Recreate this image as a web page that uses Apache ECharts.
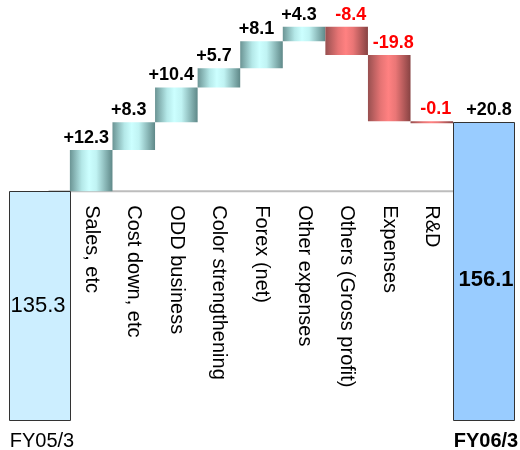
<!DOCTYPE html>
<html>
<head>
<meta charset="utf-8">
<script src="https://cdn.jsdelivr.net/npm/echarts@6/dist/echarts.min.js"></script>
<style>
  html, body { margin: 0; padding: 0; background: #ffffff; }
  #chart { width: 520px; height: 450px; }
</style>
</head>
<body>
<div id="chart"></div>
<script>
// Operating profit bridge, FY05/3 -> FY06/3
const startLabel = 'FY05/3';
const startValue = 135.3;
const endLabel = 'FY06/3';
const endValue = 156.1;
const totalChange = 20.8;

const categories = [
  'Sales, etc',
  'Cost down, etc',
  'ODD business',
  'Color strengthening',
  'Forex (net)',
  'Other expenses',
  'Others (Gross profit)',
  'Expenses',
  'R&D'
];
const changes = [12.3, 8.3, 10.4, 5.7, 8.1, 4.3, -8.4, -19.8, -0.1];

// ---- layout / style constants ----
const FONT = "'Liberation Sans', Arial, sans-serif";
const Y_MIN = 67;
const Y_MAX = 190;
const TOTAL_BAR_UNITS = 1.43;           // width of the two total bars, in step units
const X_MIN = 0.5 - TOTAL_BAR_UNITS;
const X_MAX = categories.length + 0.5 + TOTAL_BAR_UNITS;

function fmt(v) {
  return (v > 0 ? '+' : '') + v.toFixed(1);
}

function cylinder(stops) {
  return {
    type: 'linear', x: 0, y: 0, x2: 1, y2: 0,
    colorStops: stops.map(function (s) { return { offset: s[0], color: s[1] }; })
  };
}
const riseFill = cylinder([[0, '#6b9494'], [0.28, '#b4e8e8'], [0.45, '#ccffff'], [0.62, '#c0f3f3'], [1, '#5f8888']]);
const fallFill = cylinder([[0, '#985050'], [0.3, '#e67474'], [0.48, '#ff8181'], [0.65, '#ea7676'], [1, '#874343']]);

// running totals for each step
const stepData = [];
let level = startValue;
changes.forEach(function (d, i) {
  const next = level + d;
  stepData.push([i + 1, Math.min(level, next), Math.max(level, next), d]);
  level = next;
});

function renderStep(params, api) {
  const i = api.value(0);
  const lo = api.value(1);
  const hi = api.value(2);
  const delta = api.value(3);
  const pTop = api.coord([i - 0.5, hi]);
  const pBot = api.coord([i + 0.5, lo]);
  const x = pTop[0];
  const w = pBot[0] - pTop[0];
  const y = pTop[1];
  const h = Math.max(pBot[1] - pTop[1], 2);
  const cx = x + w / 2;
  const baseY = api.coord([i, startValue])[1];
  const rising = delta > 0;
  return {
    type: 'group',
    children: [
      {
        type: 'rect',
        shape: { x: x, y: y, width: w, height: h },
        style: { fill: rising ? riseFill : fallFill }
      },
      {
        type: 'text',
        x: cx + (rising ? -5 : 4),
        y: y - 3,
        style: {
          text: fmt(delta),
          fill: rising ? '#000000' : '#ff0000',
          font: 'bold 18px ' + FONT,
          align: 'center',
          verticalAlign: 'bottom'
        }
      },
      {
        type: 'text',
        x: cx,
        y: baseY + 14,
        rotation: -Math.PI / 2,
        style: {
          text: categories[i - 1],
          fill: '#000000',
          font: '20px ' + FONT,
          align: 'left',
          verticalAlign: 'middle'
        }
      }
    ]
  };
}

function renderTotal(params, api) {
  const i = api.value(0);
  const v = api.value(1);
  const isStart = params.seriesName === 'start';
  const left = isStart ? i + 0.5 - TOTAL_BAR_UNITS : i - 0.5;
  const right = left + TOTAL_BAR_UNITS;
  const pTop = api.coord([left, v]);
  const pBot = api.coord([right, Y_MIN]);
  const x = Math.round(pTop[0]) + 0.5;
  const y = Math.round(pTop[1]) + 0.5;
  const w = Math.round(pBot[0] - pTop[0]);
  const h = Math.round(pBot[1] - pTop[1]);
  const cx = x + w / 2;
  const children = [
    {
      type: 'rect',
      shape: { x: x, y: y, width: w, height: h },
      style: { fill: isStart ? '#cceeff' : '#99ccff', stroke: '#333333', lineWidth: 1 }
    },
    {
      type: 'text',
      x: cx + (isStart ? -2 : 2),
      y: y + h / 2 + (isStart ? 0 : 8),
      style: {
        text: v.toFixed(1),
        fill: '#000000',
        font: (isStart ? '' : 'bold ') + '22px ' + FONT,
        align: 'center',
        verticalAlign: 'middle'
      }
    },
    {
      type: 'text',
      x: cx + 2,
      y: y + h + 21,
      style: {
        text: isStart ? startLabel : endLabel,
        fill: '#000000',
        font: (isStart ? '' : 'bold ') + '20px ' + FONT,
        align: 'center',
        verticalAlign: 'middle'
      }
    }
  ];
  if (!isStart) {
    children.push({
      type: 'text',
      x: cx + 5,
      y: y - 3,
      style: {
        text: fmt(totalChange),
        fill: '#000000',
        font: 'bold 18px ' + FONT,
        align: 'center',
        verticalAlign: 'bottom'
      }
    });
  }
  return { type: 'group', children: children };
}

const chart = echarts.init(document.getElementById('chart'), null, { renderer: 'canvas' });
chart.setOption({
  animation: false,
  backgroundColor: '#ffffff',
  grid: { left: 9, right: 6, top: 8, bottom: 30 },
  xAxis: { type: 'value', min: X_MIN, max: X_MAX, show: false },
  yAxis: { type: 'value', min: Y_MIN, max: Y_MAX, show: false },
  series: [
    {
      name: 'baseline',
      type: 'line',
      z: 1,
      symbol: 'none',
      silent: true,
      lineStyle: { color: '#bdbdbd', width: 2 },
      data: [[0, startValue], [categories.length + 1, startValue]]
    },
    {
      name: 'steps',
      type: 'custom',
      z: 3,
      renderItem: renderStep,
      data: stepData
    },
    {
      name: 'start',
      type: 'custom',
      z: 4,
      renderItem: renderTotal,
      data: [[0, startValue]]
    },
    {
      name: 'end',
      type: 'custom',
      z: 4,
      renderItem: renderTotal,
      data: [[categories.length + 1, endValue]]
    }
  ]
});
</script>
</body>
</html>
